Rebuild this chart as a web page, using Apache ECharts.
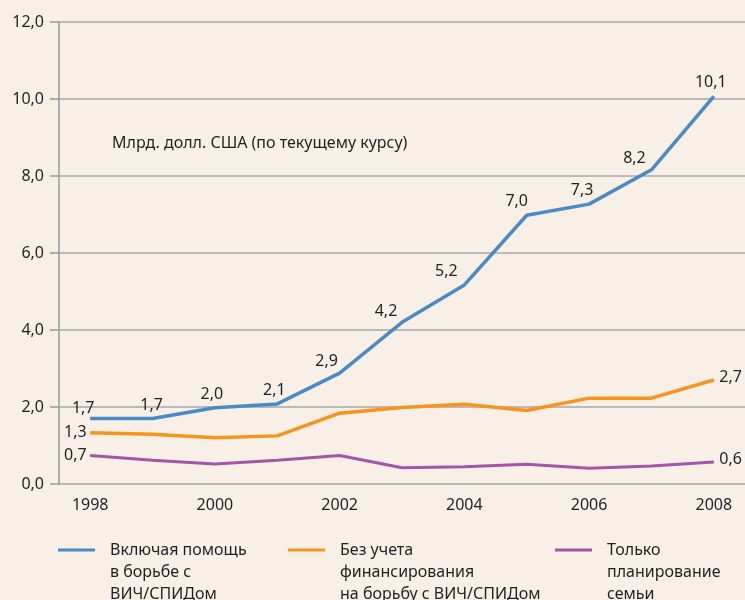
<!DOCTYPE html>
<html>
<head>
<meta charset="utf-8">
<script src="https://cdn.jsdelivr.net/npm/echarts@6/dist/echarts.min.js"></script>
<style>
  html, body { margin: 0; padding: 0; background: #f8f0e7; }
  #main { width: 745px; height: 600px; }
</style>
</head>
<body>
<div id="main"></div>
<script>
var years = ['1998', '1999', '2000', '2001', '2002', '2003', '2004', '2005', '2006', '2007', '2008'];
var withHiv = [1.7, 1.7, 1.98, 2.08, 2.88, 4.2, 5.17, 6.98, 7.27, 8.16, 10.07];
var withoutHiv = [1.33, 1.29, 1.2, 1.25, 1.84, 1.99, 2.07, 1.91, 2.23, 2.23, 2.7];
var familyOnly = [0.74, 0.62, 0.52, 0.62, 0.74, 0.42, 0.45, 0.51, 0.41, 0.47, 0.57];
var seriesNames = ['Включая помощь\nв борьбе с\nВИЧ/СПИДом', 'Без учета\nфинансирования\nна борьбу с ВИЧ/СПИДом', 'Только\nпланирование\nсемьи'];
var yTicks = ['0,0', '2,0', '4,0', '6,0', '8,0', '10,0', '12,0'];

// nudges for the blue value labels (px)
var blueLabelOffsets = [[-7, 3], [-1, 0], [-3, 0], [-3, 0], [-13, 2], [-16, 3], [-18, 0], [-10, 0], [-7, 0], [-17, 2], [-3, 0]];

var font = 'Noto Sans';
var textColor = '#231f20';

function fmt(v) {
    return v.toFixed(1).replace('.', ',');
}

var myChart = echarts.init(document.getElementById('main'));

// blue line: every point labelled
var blueData = withHiv.map(function (v, i) {
    return { value: v, label: { offset: blueLabelOffsets[i] } };
});

// other lines: only first and last labelled
function endLabels(arr) {
    return arr.map(function (v, i) {
        var item = { value: v, label: { show: false } };
        if (i === 0) item.label = { show: true, position: 'left', distance: 3 };
        if (i === arr.length - 1) item.label = { show: true, position: 'right', distance: 5, offset: [0, -3] };
        return item;
    });
}

var labelStyle = {
    show: true,
    position: 'top',
    distance: 5,
    fontFamily: font,
    fontSize: 16,
    color: textColor,
    formatter: function (p) { return fmt(p.value); }
};

// icon sits on the first text line: two blank lines before the name
function legendFor(name, left) {
    return {
        left: left,
        top: 490,
        data: [name],
        icon: 'rect',
        itemWidth: 37,
        itemHeight: 3,
        itemGap: 0,
        formatter: function (n) { return '\n\n' + n; },
        textStyle: {
            fontFamily: font,
            fontSize: 16,
            color: textColor,
            lineHeight: 22,
            padding: [0, 0, 0, 10]
        }
    };
}

var option = {
    backgroundColor: '#f8f0e7',
    animation: false,
    title: {
        text: 'Млрд. долл. США (по текущему курсу)',
        left: 107,
        top: 130,
        textStyle: { fontFamily: font, fontSize: 16, fontWeight: 'normal', color: textColor }
    },
    legend: [
        legendFor(seriesNames[0], 53),
        legendFor(seriesNames[1], 283),
        legendFor(seriesNames[2], 550)
    ],
    grid: { left: 59, right: -3, top: 22, bottom: 116 },
    xAxis: {
        type: 'category',
        data: years,
        boundaryGap: true,
        axisLine: { show: false },
        axisTick: { show: false },
        axisLabel: {
            interval: 1,
            margin: 13,
            fontFamily: font,
            fontSize: 16,
            color: textColor
        }
    },
    yAxis: {
        type: 'value',
        min: 0,
        max: 12,
        interval: 2,
        axisLine: { show: true, lineStyle: { color: '#9a9a9a', width: 1.5 } },
        axisTick: { show: true, length: 9, lineStyle: { color: '#9a9a9a', width: 1.5 } },
        splitLine: { show: true, lineStyle: { color: '#a8a8a8', width: 1.5 } },
        axisLabel: {
            margin: 15,
            fontFamily: font,
            fontSize: 16,
            color: textColor,
            formatter: function (v) { return yTicks[v / 2]; }
        }
    },
    series: [
        {
            name: seriesNames[0],
            type: 'line',
            data: blueData,
            symbol: 'circle',
            symbolSize: 1,
            showSymbol: true,
            color: '#4a8ac6',
            lineStyle: { width: 3.5 },
            label: labelStyle
        },
        {
            name: seriesNames[1],
            type: 'line',
            data: endLabels(withoutHiv),
            symbol: 'circle',
            symbolSize: 1,
            showSymbol: true,
            color: '#f7941d',
            lineStyle: { width: 3.5 },
            label: labelStyle
        },
        {
            name: seriesNames[2],
            type: 'line',
            data: endLabels(familyOnly),
            symbol: 'circle',
            symbolSize: 1,
            showSymbol: true,
            color: '#a356a8',
            lineStyle: { width: 3 },
            label: labelStyle
        }
    ]
};

myChart.setOption(option);
</script>
</body>
</html>
